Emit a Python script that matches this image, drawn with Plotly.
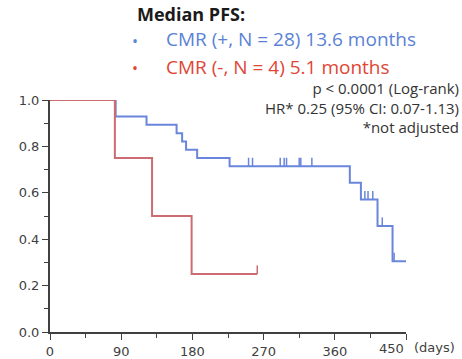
import plotly.graph_objects as go

# Kaplan-Meier data (days, survival probability)
blue_times = [0, 83, 122, 160, 167, 172, 186, 227, 379, 393, 414, 433, 450]
blue_surv = [1.0, 0.929, 0.893, 0.857, 0.821, 0.786, 0.75, 0.714, 0.643, 0.571, 0.457, 0.305, 0.305]
blue_cens_t = [251, 256, 291, 296, 299, 315, 317, 331, 398, 402, 408, 420, 435]

red_times = [0, 82, 129, 179, 262]
red_surv = [1.0, 0.75, 0.5, 0.25, 0.25]
red_cens_t = [262]

x_ticks = [0, 90, 180, 270, 360, 450]
y_ticks = [0.0, 0.2, 0.4, 0.6, 0.8, 1.0]

stats_lines = ["p < 0.0001 (Log-rank)", "HR* 0.25 (95% CI: 0.07-1.13)", "*not adjusted"]

BLUE = "#6a86dc"
RED = "#cc6b72"
MARK_H = 0.037


def surv_at(times, surv, t):
    s = surv[0]
    for ti, si in zip(times, surv):
        if ti <= t:
            s = si
    return s


def cens_segments(times, surv, cens):
    xs, ys = [], []
    for t in cens:
        s = surv_at(times, surv, t)
        xs += [t, t, None]
        ys += [s, s + MARK_H, None]
    return xs, ys


fig = go.Figure()
fig.add_trace(go.Scatter(x=blue_times, y=blue_surv, mode="lines", line=dict(color=BLUE, width=2, shape="hv"),
                         cliponaxis=False, showlegend=False, hoverinfo="skip"))
bx, by = cens_segments(blue_times, blue_surv, blue_cens_t)
fig.add_trace(go.Scatter(x=bx, y=by, mode="lines", line=dict(color=BLUE, width=1.5), cliponaxis=False,
                         showlegend=False, hoverinfo="skip"))
fig.add_trace(go.Scatter(x=red_times, y=red_surv, mode="lines", line=dict(color=RED, width=2, shape="hv"),
                         cliponaxis=False, showlegend=False, hoverinfo="skip"))
rx, ry = cens_segments(red_times, red_surv, red_cens_t)
fig.add_trace(go.Scatter(x=rx, y=ry, mode="lines", line=dict(color=RED, width=1.5), cliponaxis=False,
                         showlegend=False, hoverinfo="skip"))

AX = "#404040"
TICK_FONT = dict(family="DejaVu Sans", size=13, color="#3f3f3f")
# last x tick label is drawn right-aligned at its tick (next to the "(days)" unit)
x_tick_text = [str(v) for v in x_ticks[:-1]] + [""]
fig.update_xaxes(range=[0, 450], tickvals=x_ticks, ticktext=x_tick_text, showline=True, automargin=False,
                 linecolor=AX, linewidth=2, ticks="outside", ticklen=6, tickcolor=AX, tickwidth=1,
                 minor=dict(dtick=45, tick0=0, ticks="outside", ticklen=4, tickcolor=AX),
                 showgrid=False, zeroline=False, tickfont=TICK_FONT)
fig.update_yaxes(range=[0, 1], tickvals=y_ticks, ticktext=[f"{v:.1f}" for v in y_ticks], showline=True,
                 automargin=False,
                 linecolor=AX, linewidth=2, ticks="outside", ticklen=6, tickcolor=AX, tickwidth=1,
                 minor=dict(dtick=0.1, tick0=0, ticks="outside", ticklen=4, tickcolor=AX),
                 showgrid=False, zeroline=False, tickfont=TICK_FONT)

TF = "Open Sans"
ann = [
    dict(x=0.2416, y=1.371, text="<b>Median PFS:</b>", xanchor="left", font=dict(family=TF, size=18, color="#1a1a1a")),
    dict(x=0.238, y=1.254, text="•", xanchor="center", font=dict(family=TF, size=16, color="#5a82d6")),
    dict(x=0.323, y=1.262, text="CMR (+, N = 28) 13.6 months", xanchor="left", font=dict(family=TF, size=19, color="#5a82d6")),
    dict(x=0.238, y=1.138, text="•", xanchor="center", font=dict(family=TF, size=16, color="#e04535")),
    dict(x=0.323, y=1.142, text="CMR (-, N = 4) 5.1 months", xanchor="left", font=dict(family=TF, size=19, color="#e04535")),
    dict(x=1.1517, y=0.968, text="<br>".join(stats_lines), xanchor="right", align="right",
         font=dict(family=TF, size=15, color="#333333")),
]
for a in ann:
    a.update(xref="paper", yref="paper", yanchor="middle", showarrow=False, borderpad=0)
ann.append(dict(x=x_ticks[-1], y=-0.072, xref="x", yref="paper", text=str(x_ticks[-1]), xanchor="right",
                yanchor="middle", showarrow=False, font=TICK_FONT))
ann.append(dict(x=x_ticks[-1], y=-0.068, xref="x", yref="paper", text="(days)", xanchor="left", xshift=6,
                yanchor="middle", showarrow=False, font=TICK_FONT))
fig.update_layout(annotations=ann, width=462, height=359, margin=dict(l=50, r=56, t=100, b=27),
                  plot_bgcolor="white", paper_bgcolor="white", hovermode=False)
fig.write_html("out.html", config={"displayModeBar": False, "staticPlot": True},
               post_script="document.body.style.margin='0';")
